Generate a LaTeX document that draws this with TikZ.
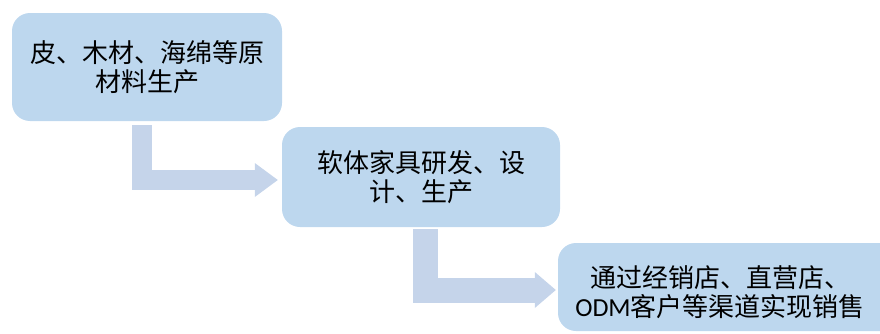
\documentclass[tikz,border=0pt]{standalone}
\usepackage{fontspec}
\setmainfont{Carlito}
\newfontfamily\cjk{Noto Sans CJK SC}
\usetikzlibrary{arrows.meta}
\definecolor{boxfill}{RGB}{189,215,238}
\definecolor{arrowfill}{RGB}{197,212,234}
\begin{document}
\begin{tikzpicture}[x=1pt,y=1pt,
  stage/.style={fill=boxfill, rounded corners=18pt, inner sep=0pt, align=center,
    font=\cjk\fontsize{26}{29}\selectfont, text=black},
  stagetext/.style={inner sep=0pt, align=center, font=\cjk\fontsize{26}{29}\selectfont, text=black},
  flow/.style n args={3}{draw=arrowfill, line width=#1, line join=miter,
    -{Triangle[length=#2,width=#3,line width=0pt]}}
]
\useasboundingbox (0,0) rectangle (880,333);
\clip (0,0) rectangle (880,333);
\node[stage, minimum width=270pt, minimum height=108pt] (b1) at (147,266)
  {皮、木材、海绵等原\\材料生产};
\node[stage, minimum width=278pt, minimum height=100pt] (b2) at (421,156)
  {软体家具研发、设\\计、生产};
\node[stage, minimum width=350pt, minimum height=88pt] (b3) at (733,46) {};
\node[stagetext] (t3) at (720,40.5) {通过经销店、直营店、\\{\fontspec{Carlito}ODM}客户等渠道实现销售};
\draw[flow={20pt}{23pt}{34pt}] ([xshift=-5.5pt,yshift=-4pt]b1.south) |- ([xshift=-4pt,yshift=-3pt]b2.west);
\draw[flow={25pt}{21pt}{36pt}] ([xshift=4pt,yshift=-2pt]b2.south) |- ([xshift=-2pt,yshift=-3pt]b3.west);
\end{tikzpicture}
\end{document}
